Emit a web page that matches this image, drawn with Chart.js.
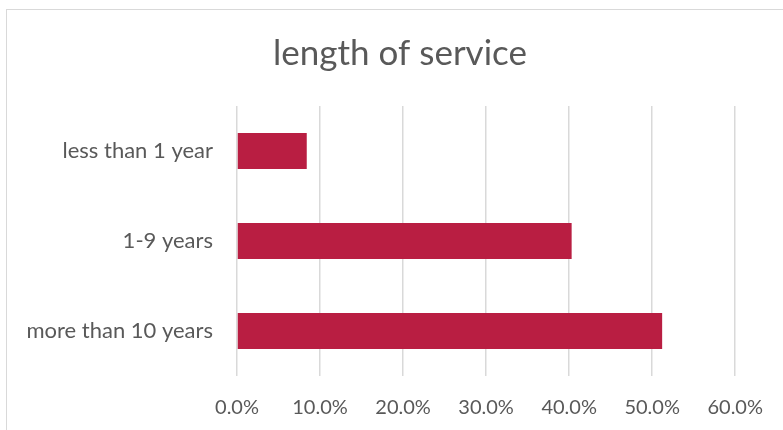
<!DOCTYPE html>
<html>
<head>
<meta charset="utf-8">
<script src="https://cdn.jsdelivr.net/npm/chart.js@4"></script>
<style>
  html, body { margin: 0; padding: 0; background: #fff; overflow: hidden; }
  #frame { position: absolute; left: 6px; top: 9px; width: 900px; height: 600px; border: 1px solid #d9d9d9; }
  #wrap { position: absolute; left: 0; top: 0; width: 783px; height: 430px; }
</style>
</head>
<body>
<div id="frame"></div>
<div id="wrap"><canvas id="ServiceChart"></canvas></div>
<script>
var categories = ["less than 1 year", "1-9 years", "more than 10 years"];
var shares = [8.4, 40.3, 51.2];
var tickMax = 60;
var tickStep = 10;

var textGray = "#595959";
var fontFamily = "Lato, 'Open Sans', sans-serif";

new Chart(document.getElementById("ServiceChart"), {
  type: "bar",
  data: {
    labels: categories,
    datasets: [
      {
        label: "length of service",
        data: shares,
        backgroundColor: "#b91e42",
        borderWidth: 0,
        categoryPercentage: 1,
        barPercentage: 0.4,
      },
    ],
  },
  options: {
    indexAxis: "y",
    responsive: true,
    maintainAspectRatio: false,
    animation: false,
    layout: {
      padding: { top: 0, right: 0, bottom: 0, left: 17 },
    },
    plugins: {
      legend: { display: false },
      tooltip: { enabled: false },
      title: {
        display: true,
        text: "length of service",
        color: textGray,
        font: { family: fontFamily, size: 35, weight: "normal", lineHeight: 1.2 },
        padding: { top: 33, bottom: 31 },
      },
    },
    scales: {
      x: {
        min: 0,
        max: tickMax,
        grid: { color: "#d9d9d9", lineWidth: 1.5, drawTicks: false },
        border: { display: false },
        ticks: {
          stepSize: tickStep,
          padding: 20,
          color: textGray,
          font: { family: fontFamily, size: 20 },
          callback: function (v) { return v.toFixed(1) + "%"; },
        },
        afterFit: function (scale) { scale.height = 54; },
      },
      y: {
        grid: { display: false, drawTicks: false },
        border: { display: false },
        ticks: {
          padding: 24,
          color: textGray,
          font: { family: fontFamily, size: 22 },
        },
        afterFit: function (scale) { scale.width = 220; },
      },
      // empty box on the right so the plot ends at 60% where the reference does
      yRight: {
        type: "category",
        position: "right",
        grid: { display: false, drawTicks: false },
        border: { display: false },
        ticks: { display: false },
        afterFit: function (scale) { scale.width = 46; },
      },
    },
  },
});
</script>
</body>
</html>
